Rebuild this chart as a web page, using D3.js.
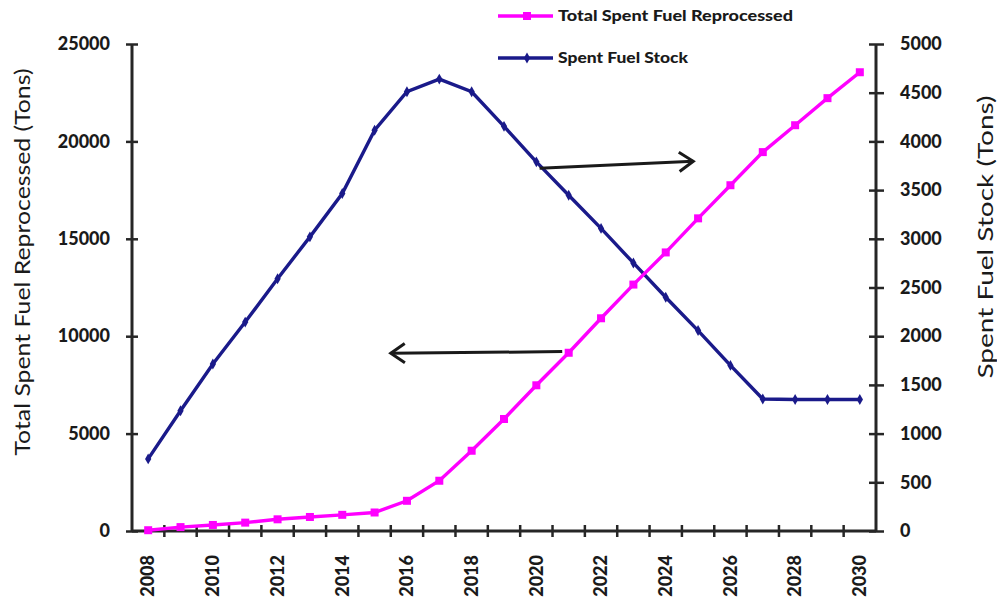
<!DOCTYPE html>
<html><head><meta charset="utf-8">
<script src="https://cdn.jsdelivr.net/npm/d3@7"></script>
<style>body{margin:0;background:#fff} svg{display:block}</style>
</head><body><svg id="c" width="997" height="600"></svg>
<script>
const years = [2008,2009,2010,2011,2012,2013,2014,2015,2016,2017,2018,2019,2020,2021,2022,2023,2024,2025,2026,2027,2028,2029,2030];
const reprocessed = [40,200,310,430,600,720,830,950,1550,2580,4120,5750,7480,9150,10920,12650,14300,16050,17750,19450,20830,22220,23550];
const stock = [740,1235,1715,2145,2590,3020,3465,4115,4510,4640,4510,4155,3790,3447,3107,2752,2400,2058,1700,1355,1350,1350,1350];
const leftTicks = [0,5000,10000,15000,20000,25000];
const rightTicks = [0,500,1000,1500,2000,2500,3000,3500,4000,4500,5000];
const yearLabels = [2008,2010,2012,2014,2016,2018,2020,2022,2024,2026,2028,2030];
const seriesNames = ["Total Spent Fuel Reprocessed","Spent Fuel Stock"];
const leftTitle = "Total Spent Fuel Reprocessed  (Tons)";
const rightTitle = "Spent Fuel Stock (Tons)";
// annotation arrows in data units (year, left-axis value)
const arrows = [
  {from:[2020.1,18620], to:[2024.85,18980]},
  {from:[2020.8,9210], to:[2015.5,9120]}
];

const svg = d3.select("#c");
const L = 132, R = 876, T = 44, B = 531;
const FONT = "Lato, 'Open Sans', sans-serif";
const AX = "#262626";

const x = d3.scaleBand().domain(years).range([L,R]).padding(0);
const bw = x.bandwidth();
const cx = d => x(d) + bw/2;
const xf = d3.scaleLinear().domain([years[0], years[years.length-1]]).range([cx(years[0]), cx(years[years.length-1])]);
const yL = d3.scaleLinear().domain([0,25000]).range([B,T]);
const yR = d3.scaleLinear().domain([0,5000]).range([B,T]);

// Left axis
const gl = svg.append("g").attr("transform",`translate(${L},0)`)
  .call(d3.axisLeft(yL).tickValues(leftTicks).tickSize(6).tickPadding(16).tickFormat(d3.format("d")));
gl.selectAll(".tick line").attr("x1",6).attr("x2",-6);
// Right axis
const gr = svg.append("g").attr("transform",`translate(${R},0)`)
  .call(d3.axisRight(yR).tickValues(rightTicks).tickSize(7).tickPadding(17).tickFormat(d3.format("d")));
gr.selectAll(".tick line").attr("x1",-7).attr("x2",8);
// Bottom axis with labels at category centers
const gb = svg.append("g").attr("transform",`translate(0,${B})`)
  .call(d3.axisBottom(x).tickValues(yearLabels).tickSize(0).tickPadding(0));
gb.selectAll(".tick text")
  .attr("transform","rotate(-90)")
  .attr("x",-24).attr("y",0).attr("dy","0.35em")
  .style("text-anchor","end");
// tick marks between categories
gb.selectAll("line.bt").data(years.slice(1)).join("line").attr("class","bt")
  .attr("x1",d=>x(d)).attr("x2",d=>x(d)).attr("y1",-6).attr("y2",6);

[gl,gr,gb].forEach(g=>{
  g.select(".domain").attr("d", null);
  g.selectAll("line").attr("stroke",AX).attr("stroke-width",2.5);
  g.selectAll("text").attr("fill","#1a1a1a").style("font-family",FONT)
   .style("font-weight","900").style("font-size","18px");
});
// axis lines
svg.append("line").attr("x1",L).attr("x2",L).attr("y1",yL(25000)).attr("y2",B).attr("stroke",AX).attr("stroke-width",3);
svg.append("line").attr("x1",R).attr("x2",R).attr("y1",yR(5000)).attr("y2",B).attr("stroke",AX).attr("stroke-width",3);
svg.append("line").attr("x1",L).attr("x2",R).attr("y1",B).attr("y2",B).attr("stroke",AX).attr("stroke-width",3);

// Axis titles
svg.append("text").attr("transform",`translate(30,262) rotate(-90)`)
  .attr("text-anchor","middle").style("font-family",FONT).style("font-size","22px")
  .attr("textLength",387).attr("lengthAdjust","spacingAndGlyphs")
  .attr("fill","#1a1a1a").text(leftTitle);
svg.append("text").attr("transform",`translate(993,237) rotate(-90)`)
  .attr("text-anchor","middle").style("font-family",FONT).style("font-size","22px")
  .attr("textLength",283).attr("lengthAdjust","spacingAndGlyphs")
  .attr("fill","#1a1a1a").text(rightTitle);

const MAG = "#ff00ff", NAVY = "#1a1a8a";
// Lines
const lineL = d3.line().x((d,i)=>cx(years[i])).y(d=>yL(d));
const lineR = d3.line().x((d,i)=>cx(years[i])).y(d=>yR(d));
svg.append("path").datum(stock).attr("d",lineR).attr("fill","none").attr("stroke",NAVY).attr("stroke-width",3.4);
svg.selectAll("path.dm").data(stock).join("path").attr("class","dm")
  .attr("d",d3.symbol(d3.symbolDiamond,34))
  .attr("transform",(d,i)=>`translate(${cx(years[i])},${yR(d)})`).attr("fill",NAVY);
svg.append("path").datum(reprocessed).attr("d",lineL).attr("fill","none").attr("stroke",MAG).attr("stroke-width",3.4);
svg.selectAll("rect.sq").data(reprocessed).join("rect").attr("class","sq")
  .attr("x",(d,i)=>cx(years[i])-4).attr("y",d=>yL(d)-4).attr("width",8).attr("height",8).attr("fill",MAG);

// Arrows
arrows.forEach(a=>{
  const x1=xf(a.from[0]), y1=yL(a.from[1]), x2=xf(a.to[0]), y2=yL(a.to[1]);
  const ang=Math.atan2(y2-y1,x2-x1), h=17, s=0.6;
  svg.append("line").attr("x1",x1).attr("y1",y1).attr("x2",x2).attr("y2",y2)
    .attr("stroke","#1a1a1a").attr("stroke-width",3);
  const p1=[x2-h*Math.cos(ang-s), y2-h*Math.sin(ang-s)];
  const p2=[x2-h*Math.cos(ang+s), y2-h*Math.sin(ang+s)];
  svg.append("path").attr("d",`M${p1[0]},${p1[1]}L${x2},${y2}L${p2[0]},${p2[1]}`)
    .attr("fill","none").attr("stroke","#1a1a1a").attr("stroke-width",3).attr("stroke-linejoin","miter");
});

// Legend
const legLen = [235,130];
const leg = svg.append("g");
[[MAG,16,"sq"],[NAVY,58,"dm"]].forEach((c,i)=>{
  leg.append("line").attr("x1",498).attr("x2",553).attr("y1",c[1]).attr("y2",c[1]).attr("stroke",c[0]).attr("stroke-width",3.4);
  if(c[2]==="sq") leg.append("rect").attr("x",523).attr("y",c[1]-4).attr("width",8).attr("height",8).attr("fill",c[0]);
  else leg.append("path").attr("d",d3.symbol(d3.symbolDiamond,34)).attr("transform",`translate(527,${c[1]})`).attr("fill",c[0]);
  leg.append("text").attr("x",558).attr("y",c[1]).attr("dy","0.35em")
    .style("font-family",FONT).style("font-weight","900").style("font-size","15px")
    .attr("textLength",legLen[i]).attr("lengthAdjust","spacingAndGlyphs")
    .attr("fill","#1a1a1a").text(seriesNames[i]);
});
</script></body></html>
